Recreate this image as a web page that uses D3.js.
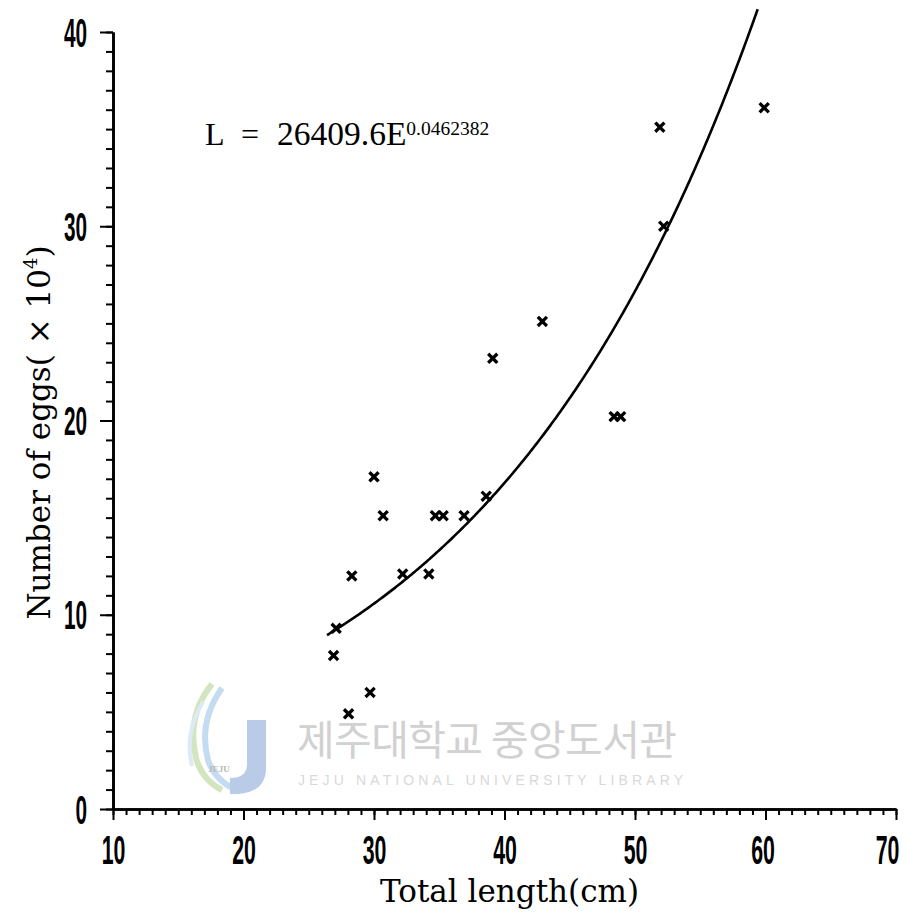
<!DOCTYPE html>
<html>
<head>
<meta charset="utf-8">
<script src="https://cdn.jsdelivr.net/npm/d3@7"></script>
<style>
  html, body { margin: 0; padding: 0; background: #fff; }
  svg { display: block; }
</style>
</head>
<body>
<svg id="chart" width="907" height="922"></svg>
<script>
// ---- Data ----
const lengths = [26.9, 27.1, 28.05, 28.3, 29.7, 30.0, 30.7, 32.2, 34.2, 34.7, 35.3, 36.9, 38.6, 39.1, 42.9, 48.4, 48.9, 51.9, 52.2, 59.9];
const eggs    = [7.9,  9.3,  4.9,   12.0, 6.0,  17.1, 15.1, 12.1, 12.1, 15.1, 15.1, 15.1, 16.1, 23.2, 25.1, 20.2, 20.2, 35.1, 30.0, 36.1];
const xTickLabels = [10, 20, 30, 40, 50, 60, 70];
const yTickLabels = [0, 10, 20, 30, 40];
const fitCoefA = 26409.6;     // eggs
const fitCoefB = 0.0462382;
const fitRange = [26.4, 59.4];
const equationLead = "L";
const equationMain = "26409.6E";
const equationExp = "0.0462382";
const xTitle = "Total length(cm)";
const yTitleMain = "Number of eggs( × 10";
const yTitleSup = "4";

// ---- Layout ----
const svg = d3.select("#chart");
const x = d3.scaleLinear().domain([10, 70]).range([113, 896]);
const y = d3.scaleLinear().domain([0, 40]).range([809, 32]);

const numFont = "'Liberation Sans Narrow', 'Liberation Sans', sans-serif";
const sx = 0.52;

// Watermark (faint library logo)
const wm = svg.append("g").attr("opacity", 0.8);
wm.append("path").attr("d", "M212,684 Q186,716 196,758 Q202,780 222,790")
  .attr("fill", "none").attr("stroke", "#c9dfae").attr("stroke-width", 6);
wm.append("path").attr("d", "M222,688 Q198,722 208,760 Q214,778 232,788")
  .attr("fill", "none").attr("stroke", "#b6d4ee").attr("stroke-width", 6);
wm.append("path").attr("d", "M203,702 Q184,732 192,766")
  .attr("fill", "none").attr("stroke", "#d3e6f5").attr("stroke-width", 4);
wm.append("path")
  .attr("d", "M247,720 L266,720 L266,768 Q266,792 238,794 L230,794 L230,778 Q247,778 247,764 Z")
  .attr("fill", "#a8bfe2");
wm.append("text").attr("x", 219).attr("y", 772).attr("text-anchor", "middle")
  .attr("font-family", "'Liberation Serif', serif").attr("font-weight", "bold")
  .attr("font-size", 9).attr("fill", "#a8a8a8").text("JEJU");
wm.append("text").attr("x", 297).attr("y", 755)
  .attr("font-family", "'Noto Sans CJK KR', sans-serif").attr("font-size", 41)
  .attr("fill", "#c6c6c6").attr("textLength", 380).text("제주대학교 중앙도서관");
wm.append("text").attr("x", 298).attr("y", 785)
  .attr("font-family", "'Liberation Sans', sans-serif").attr("font-size", 14)
  .attr("fill", "#d0d0d0").attr("textLength", 385).text("JEJU NATIONAL UNIVERSITY  LIBRARY");

// ---- Axes ----
const axisStyle = g => {
  g.select(".domain").attr("stroke", "#000").attr("stroke-width", 2.6);
  g.selectAll(".tick line").attr("stroke", "#000").attr("stroke-width", 2);
};

// X minor ticks
svg.append("g").attr("transform", `translate(0,${y(0)})`)
  .call(d3.axisBottom(x).tickValues(d3.range(10, 71, 1)).tickSize(6).tickSizeOuter(0).tickFormat(""))
  .call(axisStyle);
// X major ticks + labels
const gx = svg.append("g").attr("transform", `translate(0,${y(0)})`)
  .call(d3.axisBottom(x).tickValues(xTickLabels).tickSize(11).tickSizeOuter(0).tickFormat(d3.format("d")))
  .call(axisStyle);
gx.selectAll(".tick text")
  .attr("y", 55).attr("dy", 0)
  .attr("x", (d, i, n) => (i === n.length - 1 ? -9 : (i === n.length - 2 ? -3 : 0)) / sx)
  .attr("font-family", numFont).attr("font-weight", "bold").attr("font-size", 41)
  .attr("fill", "#000").attr("transform", `scale(${sx},1)`);

// Y minor ticks
svg.append("g").attr("transform", `translate(${x(10)},0)`)
  .call(d3.axisLeft(y).tickValues(d3.range(0, 41, 1)).tickSize(7).tickSizeOuter(0).tickFormat(""))
  .call(axisStyle);
// Y major ticks + labels
const gy = svg.append("g").attr("transform", `translate(${x(10)},0)`)
  .call(d3.axisLeft(y).tickValues(yTickLabels).tickSize(13).tickSizeOuter(0).tickFormat(d3.format("d")))
  .call(axisStyle);
gy.selectAll(".tick text")
  .attr("x", -26 / sx).attr("dy", 0).attr("y", 14)
  .attr("font-family", numFont).attr("font-weight", "bold").attr("font-size", 40)
  .attr("fill", "#000").attr("transform", `scale(${sx},1)`);

// ---- Fitted curve (from the printed equation) ----
const curveXs = d3.range(fitRange[0], fitRange[1] + 0.001, 0.1);
const line = d3.line()
  .x(d => x(d))
  .y(d => y(fitCoefA * Math.exp(fitCoefB * d) / 1e4))
  .curve(d3.curveLinear);
svg.append("path").datum(curveXs)
  .attr("d", line).attr("fill", "none").attr("stroke", "#000").attr("stroke-width", 2.6);

// ---- Points ----
const pts = lengths.map((l, i) => ({ l, e: eggs[i] }));
const r = 3.4;
svg.append("g").selectAll("path.pt").data(pts).join("path")
  .attr("class", "pt")
  .attr("d", d => {
    const cx = x(d.l), cy = y(d.e);
    return `M${cx - r},${cy - r}L${cx + r},${cy + r}M${cx - r},${cy + r}L${cx + r},${cy - r}`;
  })
  .attr("stroke", "#000").attr("stroke-width", 3.3).attr("stroke-linecap", "square");

// ---- Equation ----
const eq = svg.append("g").attr("font-family", "'Liberation Serif', serif").attr("fill", "#000");
eq.append("text").attr("x", 205).attr("y", 145).attr("font-size", 32).text(equationLead);
eq.append("text").attr("x", 241).attr("y", 145).attr("font-size", 32).text("=");
const eqMain = eq.append("text").attr("x", 277).attr("y", 145).attr("font-size", 33.5);
eqMain.append("tspan").text(equationMain);
eqMain.append("tspan").attr("font-size", 19.5).attr("dy", -10).attr("dx", 0).text(equationExp);

// ---- Axis titles ----
svg.append("text")
  .attr("x", (x(10) + x(70)) / 2 + 5).attr("y", 902)
  .attr("text-anchor", "middle")
  .attr("font-family", "'DejaVu Serif', serif").attr("font-size", 31)
  .attr("fill", "#000").text(xTitle);

const yt = svg.append("text")
  .attr("transform", `translate(50,${(y(0) + y(40)) / 2 + 12}) rotate(-90)`)
  .attr("text-anchor", "middle")
  .attr("font-family", "'DejaVu Serif', serif").attr("font-size", 31)
  .attr("fill", "#000");
yt.append("tspan").text(yTitleMain);
yt.append("tspan").attr("font-size", 18).attr("dy", -13).text(yTitleSup);
yt.append("tspan").attr("dy", 13).text(")");
</script>
</body>
</html>
